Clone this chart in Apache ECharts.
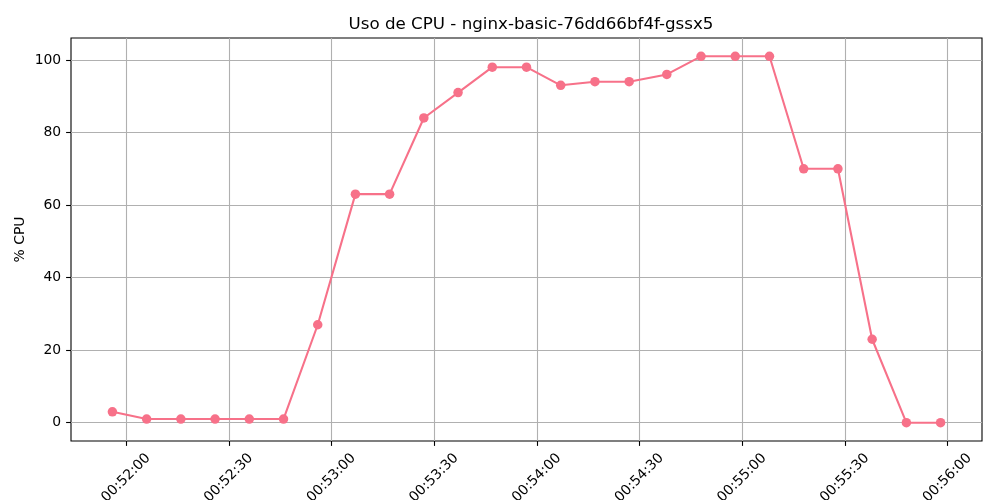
<!DOCTYPE html>
<html>
<head>
<meta charset="utf-8">
<script src="https://cdn.jsdelivr.net/npm/echarts@6/dist/echarts.min.js"></script>
<style>html,body{margin:0;padding:0;background:#fff}#c{width:1000px;height:500px}</style>
</head>
<body>
<div id="c"></div>
<script>
const times = ["00:51:56","00:52:06","00:52:16","00:52:26","00:52:36","00:52:46","00:52:56","00:53:07","00:53:17","00:53:27","00:53:37","00:53:47","00:53:57","00:54:07","00:54:17","00:54:27","00:54:38","00:54:48","00:54:58","00:55:08","00:55:18","00:55:28","00:55:38","00:55:48","00:55:58"];
const cpu = [3,1,1,1,1,1,27,63,63,84,91,98,98,93,94,94,96,101,101,101,70,70,23,0,0];
const xTickLabels = ["00:52:00","00:52:30","00:53:00","00:53:30","00:54:00","00:54:30","00:55:00","00:55:30","00:56:00"];
const yTicks = [0,20,40,60,80,100];

function toSec(s){const p=s.split(':').map(Number);return p[0]*3600+p[1]*60+p[2];}
function toStr(v){v=Math.round(v);const h=Math.floor(v/3600),m=Math.floor((v%3600)/60),s=v%60;return [h,m,s].map(n=>String(n).padStart(2,'0')).join(':');}

const xs = times.map(toSec);
const xMin0 = Math.min(...xs), xMax0 = Math.max(...xs);
const xPad = (xMax0-xMin0)*0.05;
const yMin0 = Math.min(...cpu), yMax0 = Math.max(...cpu);
const yPad = (yMax0-yMin0)*0.05;
const xTickVals = xTickLabels.map(toSec);

const font = 'DejaVu Sans';
const chart = echarts.init(document.getElementById('c'), null, {renderer:'canvas'});
chart.setOption({
  animation:false,
  backgroundColor:'#fff',
  title:{text:'Uso de CPU - nginx-basic-76dd66bf4f-gssx5',left:526,top:11,textAlign:'center',
    textStyle:{fontFamily:font,fontSize:16.7,fontWeight:'normal',color:'#000'}},
  grid:{left:71,right:18,top:38,bottom:59,containLabel:false,outerBoundsMode:'none',show:true,borderColor:'#000',borderWidth:1.1,backgroundColor:'transparent'},
  xAxis:{type:'value',min:xMin0-xPad,max:xMax0+xPad,
    axisLine:{show:false,onZero:false},
    axisTick:{show:true,customValues:xTickVals,length:4.9,inside:false,lineStyle:{color:'#000',width:1.1}},
    axisLabel:{customValues:xTickVals,formatter:v=>toStr(v),rotate:45,align:'center',verticalAlign:'middle',margin:37,
      fontFamily:font,fontSize:13.9,color:'#000'},
    splitLine:{show:true,lineStyle:{color:'#b0b0b0',width:1.1}}},
  yAxis:{type:'value',min:yMin0-yPad,max:yMax0+yPad,name:'% CPU',nameLocation:'middle',nameRotate:90,nameGap:44,nameMoveOverlap:false,
    nameTextStyle:{fontFamily:font,fontSize:13.9,color:'#000'},
    axisLine:{show:false,onZero:false},
    axisTick:{show:true,customValues:yTicks,length:4.9,lineStyle:{color:'#000',width:1.1}},
    axisLabel:{customValues:yTicks,margin:9.8,fontFamily:font,fontSize:13.9,color:'#000'},
    splitLine:{show:true,lineStyle:{color:'#b0b0b0',width:1.1}}},
  series:[{type:'line',data:xs.map((x,i)=>[x,cpu[i]]),color:'#f77189',
    symbol:'circle',symbolSize:9.5,showAllSymbol:true,
    lineStyle:{width:2.08,color:'#f77189'},itemStyle:{color:'#f77189'}}]
});
</script>
</body>
</html>
